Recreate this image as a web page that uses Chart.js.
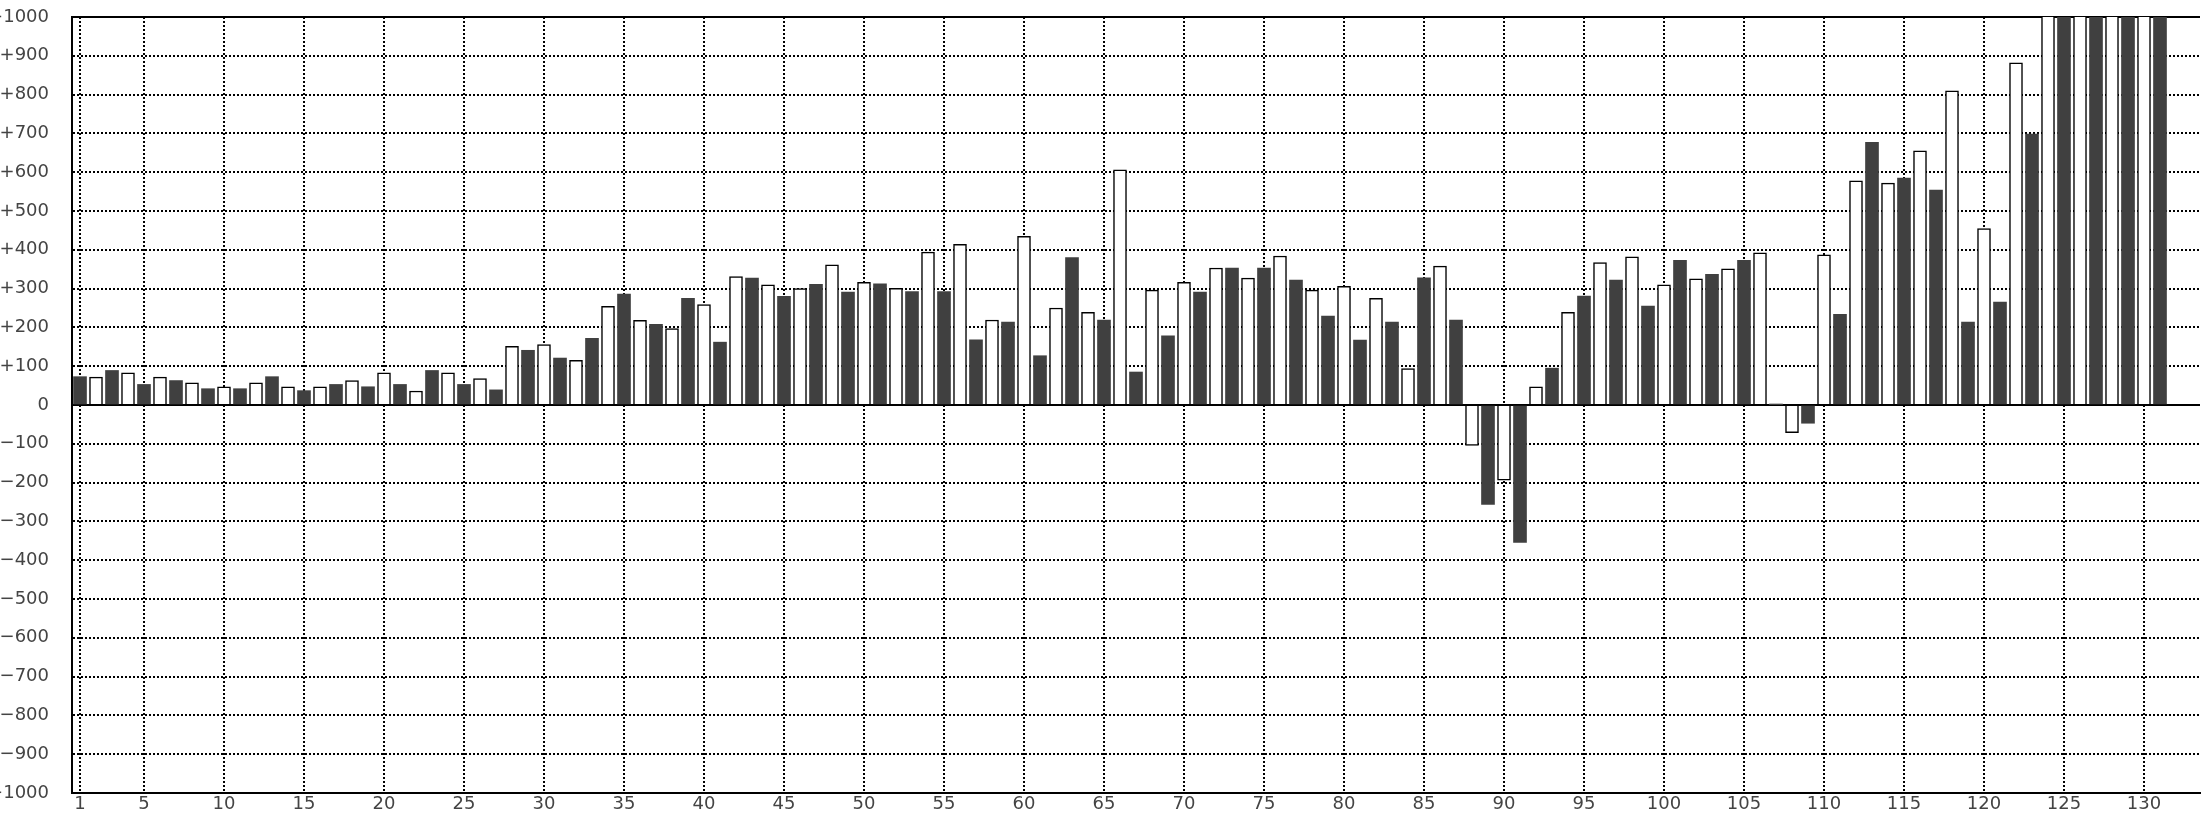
<!DOCTYPE html>
<html>
<head>
<meta charset="utf-8">
<script src="https://cdn.jsdelivr.net/npm/chart.js"></script>
<style>
  html, body { margin: 0; padding: 0; background: #fff; }
  canvas { display: block; }
</style>
</head>
<body>
<canvas id="barChart" width="2204" height="814"></canvas>
<script>
// values per category (1..131); 124-131 run past the top
const values = [
    73, 72, 89, 83, 53, 72, 63, 57, 42, 47,
    42, 57, 73, 47, 37, 47, 53, 63, 47, 83,
    53, 36, 89, 83, 53, 68, 39, 151, 141, 156,
    121, 115, 172, 254, 286, 218, 208, 197, 275, 259,
    162, 331, 327, 310, 280, 300, 311, 361, 291, 316,
    312, 301, 292, 394, 292, 414, 168, 219, 214, 435,
    127, 250, 380, 239, 219, 606, 85, 296, 178, 316,
    291, 353, 353, 327, 353, 384, 322, 296, 229, 306,
    167, 275, 214, 94, 328, 358, 219, -104, -256, -194,
    -354, 47, 95, 239, 281, 367, 322, 382, 255, 310,
    373, 325, 337, 351, 373, 392, 1, -71, -47, 387,
    234, 578, 677, 572, 585, 655, 554, 810, 214, 455,
    265, 882, 698, 1200, 1200, 1200, 1200, 1200, 1200, 1200,
    1200
];

// two empty slots at the end, the axis runs a little past the last bar
const categories = [];
for (let i = 1; i <= values.length + 2; i++) categories.push(String(i));

// x labels (and vertical grid lines) that are shown
const xTickLabels = ['1', '5', '10', '15', '20', '25', '30', '35', '40', '45', '50', '55', '60', '65',
    '70', '75', '80', '85', '90', '95', '100', '105', '110', '115', '120', '125', '130'];

const yMin = -1000;
const yMax = 1000;
const yStep = 100;

const darkBar = '#404040';
const tickFont = { family: 'DejaVu Sans', size: 18 };

const isDark = (i) => i % 2 === 0;

new Chart(document.getElementById('barChart'), {
    type: 'bar',
    data: {
        labels: categories,
        datasets: [{
            data: values,
            backgroundColor: (ctx) => isDark(ctx.dataIndex) ? darkBar : '#ffffff',
            borderColor: '#000000',
            borderWidth: (ctx) => isDark(ctx.dataIndex) ? 0 : 1.5,
            barThickness: 13
        }]
    },
    options: {
        responsive: false,
        animation: false,
        layout: {
            padding: { top: 17, right: 4, left: 0, bottom: 0 }
        },
        plugins: {
            legend: { display: false },
            tooltip: { enabled: false }
        },
        scales: {
            x: {
                offset: true,
                afterFit: (scale) => {
                    scale.height = 21;
                    scale.paddingLeft = 0;
                    scale.paddingRight = 0;
                },
                grid: {
                    offset: false,
                    drawTicks: false,
                    lineWidth: 2,
                    color: (ctx) => {
                        const lbl = categories[ctx.index];
                        return xTickLabels.includes(lbl) ? '#000000' : 'rgba(0,0,0,0)';
                    }
                },
                border: {
                    display: true,
                    color: '#000000',
                    width: 2,
                    dash: [2, 2]
                },
                ticks: {
                    autoSkip: false,
                    maxRotation: 0,
                    padding: 1,
                    color: '#444444',
                    font: tickFont,
                    callback: (value, index) => {
                        const lbl = categories[index];
                        return xTickLabels.includes(lbl) ? lbl : '';
                    }
                }
            },
            y: {
                min: yMin,
                max: yMax,
                afterFit: (scale) => {
                    scale.width = 72;
                    // keep the tick padding from pushing the plot in
                    scale.paddingTop = 0;
                    scale.paddingBottom = 0;
                },
                grid: {
                    drawTicks: false,
                    color: '#000000',
                    lineWidth: 2
                },
                border: {
                    display: true,
                    color: '#000000',
                    width: 2,
                    // solid at zero and at the top/bottom, dotted elsewhere
                    dash: (ctx) => {
                        const v = ctx.tick ? ctx.tick.value : null;
                        return (v === 0 || v === yMax || v === yMin) ? [] : [2, 2];
                    }
                },
                ticks: {
                    stepSize: yStep,
                    padding: 23,
                    color: '#444444',
                    font: tickFont,
                    callback: (v) => v > 0 ? '+' + v : (v < 0 ? '\u2212' + Math.abs(v) : '0')
                }
            }
        }
    }
});
</script>
</body>
</html>
